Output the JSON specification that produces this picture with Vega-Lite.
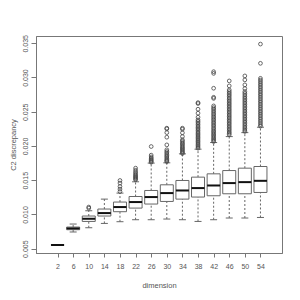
{
  "$schema": "https://vega.github.io/schema/vega-lite/v6.json",
  "width": 246,
  "height": 217,
  "autosize": {"type": "none"},
  "padding": {"left": 36, "top": 36, "right": 18, "bottom": 47},
  "background": "white",
  "config": {
    "view": {"stroke": "#777", "strokeWidth": 1},
    "font": "Liberation Sans",
    "axis": {"grid": false, "labelFont": "Liberation Sans", "titleFont": "Liberation Sans", "labelColor": "#555", "titleColor": "#555", "tickColor": "#777", "domainColor": "#777", "labelFontSize": 7, "titleFontSize": 7.5, "titleFontWeight": "normal"},
    "axisX": {"tickSize": 4, "labelPadding": 5, "titlePadding": 12},
    "axisY": {"tickSize": 5, "labelPadding": 3, "titlePadding": 4}
  },
  "datasets": {
    "boxes": [
      {"dim": 2, "lo": 0.00549, "q1": 0.00552, "med": 0.00554, "q3": 0.00556, "hi": 0.00559},
      {"dim": 6, "lo": 0.00744, "q1": 0.00777, "med": 0.00796, "q3": 0.00816, "hi": 0.0086},
      {"dim": 10, "lo": 0.00806, "q1": 0.00898, "med": 0.00937, "q3": 0.00977, "hi": 0.01054},
      {"dim": 14, "lo": 0.00869, "q1": 0.00977, "med": 0.0102, "q3": 0.01079, "hi": 0.01224},
      {"dim": 18, "lo": 0.00894, "q1": 0.0104, "med": 0.01108, "q3": 0.01181, "hi": 0.01312},
      {"dim": 22, "lo": 0.00923, "q1": 0.01093, "med": 0.01181, "q3": 0.01262, "hi": 0.01477},
      {"dim": 26, "lo": 0.00923, "q1": 0.01152, "med": 0.01254, "q3": 0.0135, "hi": 0.0175},
      {"dim": 30, "lo": 0.00933, "q1": 0.0119, "med": 0.01312, "q3": 0.01433, "hi": 0.01754},
      {"dim": 34, "lo": 0.00923, "q1": 0.01224, "med": 0.0135, "q3": 0.01496, "hi": 0.01885},
      {"dim": 38, "lo": 0.00898, "q1": 0.01254, "med": 0.01385, "q3": 0.01545, "hi": 0.01953},
      {"dim": 42, "lo": 0.00923, "q1": 0.01273, "med": 0.01423, "q3": 0.01593, "hi": 0.0205},
      {"dim": 46, "lo": 0.00948, "q1": 0.01302, "med": 0.01458, "q3": 0.01641, "hi": 0.02137},
      {"dim": 50, "lo": 0.00948, "q1": 0.01302, "med": 0.01472, "q3": 0.01676, "hi": 0.02195},
      {"dim": 54, "lo": 0.00956, "q1": 0.01321, "med": 0.01491, "q3": 0.017, "hi": 0.02274}
    ],
    "out": [
      {"dim": 10, "v": 0.01108}, {"dim": 10, "v": 0.01092},
      {"dim": 18, "v": 0.01496}, {"dim": 18, "v": 0.01458}, {"dim": 18, "v": 0.01408}, {"dim": 18, "v": 0.0137}, {"dim": 18, "v": 0.01335},
      {"dim": 22, "v": 0.01676}, {"dim": 22, "v": 0.01645}, {"dim": 22, "v": 0.0162}, {"dim": 22, "v": 0.01598}, {"dim": 22, "v": 0.0158}, {"dim": 22, "v": 0.01562}, {"dim": 22, "v": 0.01548}, {"dim": 22, "v": 0.01535}, {"dim": 22, "v": 0.0152}, {"dim": 22, "v": 0.01506},
      {"dim": 26, "v": 0.01992}, {"dim": 26, "v": 0.01866}, {"dim": 26, "v": 0.0184}, {"dim": 26, "v": 0.01822}, {"dim": 26, "v": 0.01805}, {"dim": 26, "v": 0.0179}, {"dim": 26, "v": 0.01775}, {"dim": 26, "v": 0.01762},
      {"dim": 30, "v": 0.0226}, {"dim": 30, "v": 0.0225}, {"dim": 30, "v": 0.02195}, {"dim": 30, "v": 0.02128}, {"dim": 30, "v": 0.02016}, {"dim": 30, "v": 0.01944}, {"dim": 30, "v": 0.0192}, {"dim": 30, "v": 0.019}, {"dim": 30, "v": 0.01878}, {"dim": 30, "v": 0.01858}, {"dim": 30, "v": 0.0184}, {"dim": 30, "v": 0.0182}, {"dim": 30, "v": 0.018}, {"dim": 30, "v": 0.01785}, {"dim": 30, "v": 0.01772},
      {"dim": 34, "v": 0.0226}, {"dim": 34, "v": 0.02245}, {"dim": 34, "v": 0.02192}, {"dim": 34, "v": 0.02138}, {"dim": 34, "v": 0.0209}, {"dim": 34, "v": 0.0207}, {"dim": 34, "v": 0.02048}, {"dim": 34, "v": 0.0203}, {"dim": 34, "v": 0.0201}, {"dim": 34, "v": 0.0199}, {"dim": 34, "v": 0.01972}, {"dim": 34, "v": 0.01955}, {"dim": 34, "v": 0.01938}, {"dim": 34, "v": 0.0192}, {"dim": 34, "v": 0.01905}, {"dim": 34, "v": 0.0189},
      {"dim": 38, "v": 0.02633}, {"dim": 38, "v": 0.0262}, {"dim": 38, "v": 0.02537}, {"dim": 38, "v": 0.02479}, {"dim": 38, "v": 0.0242}, {"dim": 38, "v": 0.02381}, {"dim": 38, "v": 0.0236}, {"dim": 38, "v": 0.02338}, {"dim": 38, "v": 0.02315}, {"dim": 38, "v": 0.02292}, {"dim": 38, "v": 0.0227}, {"dim": 38, "v": 0.0225}, {"dim": 38, "v": 0.02228}, {"dim": 38, "v": 0.02205}, {"dim": 38, "v": 0.02185}, {"dim": 38, "v": 0.02165}, {"dim": 38, "v": 0.02145}, {"dim": 38, "v": 0.02125}, {"dim": 38, "v": 0.02105}, {"dim": 38, "v": 0.02085}, {"dim": 38, "v": 0.02065}, {"dim": 38, "v": 0.02045}, {"dim": 38, "v": 0.02025}, {"dim": 38, "v": 0.02005}, {"dim": 38, "v": 0.01985}, {"dim": 38, "v": 0.01968},
      {"dim": 42, "v": 0.03085}, {"dim": 42, "v": 0.0306}, {"dim": 42, "v": 0.02843}, {"dim": 42, "v": 0.02711}, {"dim": 42, "v": 0.02695}, {"dim": 42, "v": 0.02585}, {"dim": 42, "v": 0.0256}, {"dim": 42, "v": 0.02538}, {"dim": 42, "v": 0.02515}, {"dim": 42, "v": 0.0249}, {"dim": 42, "v": 0.02468}, {"dim": 42, "v": 0.02445}, {"dim": 42, "v": 0.02422}, {"dim": 42, "v": 0.024}, {"dim": 42, "v": 0.02378}, {"dim": 42, "v": 0.02355}, {"dim": 42, "v": 0.02332}, {"dim": 42, "v": 0.0231}, {"dim": 42, "v": 0.02288}, {"dim": 42, "v": 0.02265}, {"dim": 42, "v": 0.02242}, {"dim": 42, "v": 0.0222}, {"dim": 42, "v": 0.022}, {"dim": 42, "v": 0.0218}, {"dim": 42, "v": 0.0216}, {"dim": 42, "v": 0.0214}, {"dim": 42, "v": 0.0212}, {"dim": 42, "v": 0.021}, {"dim": 42, "v": 0.02082}, {"dim": 42, "v": 0.02065},
      {"dim": 46, "v": 0.0295}, {"dim": 46, "v": 0.02877}, {"dim": 46, "v": 0.02819}, {"dim": 46, "v": 0.02794}, {"dim": 46, "v": 0.0277}, {"dim": 46, "v": 0.02748}, {"dim": 46, "v": 0.02725}, {"dim": 46, "v": 0.027}, {"dim": 46, "v": 0.02678}, {"dim": 46, "v": 0.02655}, {"dim": 46, "v": 0.02632}, {"dim": 46, "v": 0.0261}, {"dim": 46, "v": 0.02588}, {"dim": 46, "v": 0.02565}, {"dim": 46, "v": 0.02542}, {"dim": 46, "v": 0.0252}, {"dim": 46, "v": 0.02498}, {"dim": 46, "v": 0.02475}, {"dim": 46, "v": 0.02452}, {"dim": 46, "v": 0.0243}, {"dim": 46, "v": 0.02408}, {"dim": 46, "v": 0.02385}, {"dim": 46, "v": 0.02362}, {"dim": 46, "v": 0.0234}, {"dim": 46, "v": 0.02318}, {"dim": 46, "v": 0.02295}, {"dim": 46, "v": 0.02272}, {"dim": 46, "v": 0.0225}, {"dim": 46, "v": 0.02228}, {"dim": 46, "v": 0.02205}, {"dim": 46, "v": 0.02185}, {"dim": 46, "v": 0.02165},
      {"dim": 50, "v": 0.03023}, {"dim": 50, "v": 0.02965}, {"dim": 50, "v": 0.02892}, {"dim": 50, "v": 0.02838}, {"dim": 50, "v": 0.02794}, {"dim": 50, "v": 0.0277}, {"dim": 50, "v": 0.02745}, {"dim": 50, "v": 0.0272}, {"dim": 50, "v": 0.02697}, {"dim": 50, "v": 0.02674}, {"dim": 50, "v": 0.0265}, {"dim": 50, "v": 0.02627}, {"dim": 50, "v": 0.02604}, {"dim": 50, "v": 0.0258}, {"dim": 50, "v": 0.02557}, {"dim": 50, "v": 0.02534}, {"dim": 50, "v": 0.0251}, {"dim": 50, "v": 0.02487}, {"dim": 50, "v": 0.02464}, {"dim": 50, "v": 0.0244}, {"dim": 50, "v": 0.02417}, {"dim": 50, "v": 0.02394}, {"dim": 50, "v": 0.0237}, {"dim": 50, "v": 0.02347}, {"dim": 50, "v": 0.02324}, {"dim": 50, "v": 0.023}, {"dim": 50, "v": 0.02277}, {"dim": 50, "v": 0.02255}, {"dim": 50, "v": 0.02232}, {"dim": 50, "v": 0.02212},
      {"dim": 54, "v": 0.03488}, {"dim": 54, "v": 0.03207}, {"dim": 54, "v": 0.02988}, {"dim": 54, "v": 0.02962}, {"dim": 54, "v": 0.02938}, {"dim": 54, "v": 0.02912}, {"dim": 54, "v": 0.02888}, {"dim": 54, "v": 0.02862}, {"dim": 54, "v": 0.02838}, {"dim": 54, "v": 0.02812}, {"dim": 54, "v": 0.02788}, {"dim": 54, "v": 0.02762}, {"dim": 54, "v": 0.02738}, {"dim": 54, "v": 0.02712}, {"dim": 54, "v": 0.02688}, {"dim": 54, "v": 0.02662}, {"dim": 54, "v": 0.02638}, {"dim": 54, "v": 0.02612}, {"dim": 54, "v": 0.02588}, {"dim": 54, "v": 0.02562}, {"dim": 54, "v": 0.02538}, {"dim": 54, "v": 0.02512}, {"dim": 54, "v": 0.02488}, {"dim": 54, "v": 0.02462}, {"dim": 54, "v": 0.02438}, {"dim": 54, "v": 0.02412}, {"dim": 54, "v": 0.02388}, {"dim": 54, "v": 0.02362}, {"dim": 54, "v": 0.02338}, {"dim": 54, "v": 0.02312}, {"dim": 54, "v": 0.0229}
    ]
  },
  "encoding": {
    "x": {"field": "dim", "type": "quantitative", "title": "dimension",
      "scale": {"domain": [-2.24, 58.24], "nice": false, "zero": false},
      "axis": {"values": [2, 6, 10, 14, 18, 22, 26, 30, 34, 38, 42, 46, 50, 54], "tickCount": 20, "labelOverlap": false}}
  },
  "layer": [
    {
      "data": {"name": "boxes"},
      "mark": {"type": "rule", "stroke": "#666", "strokeWidth": 1, "strokeDash": [2, 2]},
      "encoding": {
        "y": {"field": "lo", "type": "quantitative", "title": "C2 discrepancy",
          "scale": {"domain": [0.00437, 0.03606], "nice": false, "zero": false},
          "axis": {"values": [0.005, 0.010, 0.015, 0.020, 0.025, 0.030, 0.035], "tickCount": 20, "format": ".3f", "labelOverlap": false, "labelAngle": -90, "labelAlign": "center", "labelBaseline": "bottom"}},
        "y2": {"field": "q1"}
      }
    },
    {
      "data": {"name": "boxes"},
      "mark": {"type": "rule", "stroke": "#666", "strokeWidth": 1, "strokeDash": [2, 2]},
      "encoding": {
        "y": {"field": "q3", "type": "quantitative", "title": "C2 discrepancy"},
        "y2": {"field": "hi"}
      }
    },
    {
      "data": {"name": "boxes"},
      "mark": {"type": "tick", "orient": "horizontal", "size": 7, "thickness": 1, "color": "#666", "opacity": 1},
      "encoding": {"y": {"field": "lo", "type": "quantitative", "title": "C2 discrepancy"}}
    },
    {
      "data": {"name": "boxes"},
      "mark": {"type": "tick", "orient": "horizontal", "size": 7, "thickness": 1, "color": "#666", "opacity": 1},
      "encoding": {"y": {"field": "hi", "type": "quantitative", "title": "C2 discrepancy"}}
    },
    {
      "data": {"name": "boxes"},
      "mark": {"type": "bar", "size": 13, "fill": "white", "stroke": "#666", "strokeWidth": 1},
      "encoding": {
        "y": {"field": "q1", "type": "quantitative", "title": "C2 discrepancy"},
        "y2": {"field": "q3"}
      }
    },
    {
      "data": {"name": "boxes"},
      "mark": {"type": "tick", "orient": "horizontal", "size": 13, "thickness": 2, "color": "#111", "opacity": 1},
      "encoding": {"y": {"field": "med", "type": "quantitative", "title": "C2 discrepancy"}}
    },
    {
      "data": {"name": "out"},
      "mark": {"type": "point", "shape": "circle", "filled": false, "size": 14, "stroke": "#444", "strokeWidth": 0.8, "opacity": 1},
      "encoding": {"y": {"field": "v", "type": "quantitative", "title": "C2 discrepancy"}}
    }
  ]
}
